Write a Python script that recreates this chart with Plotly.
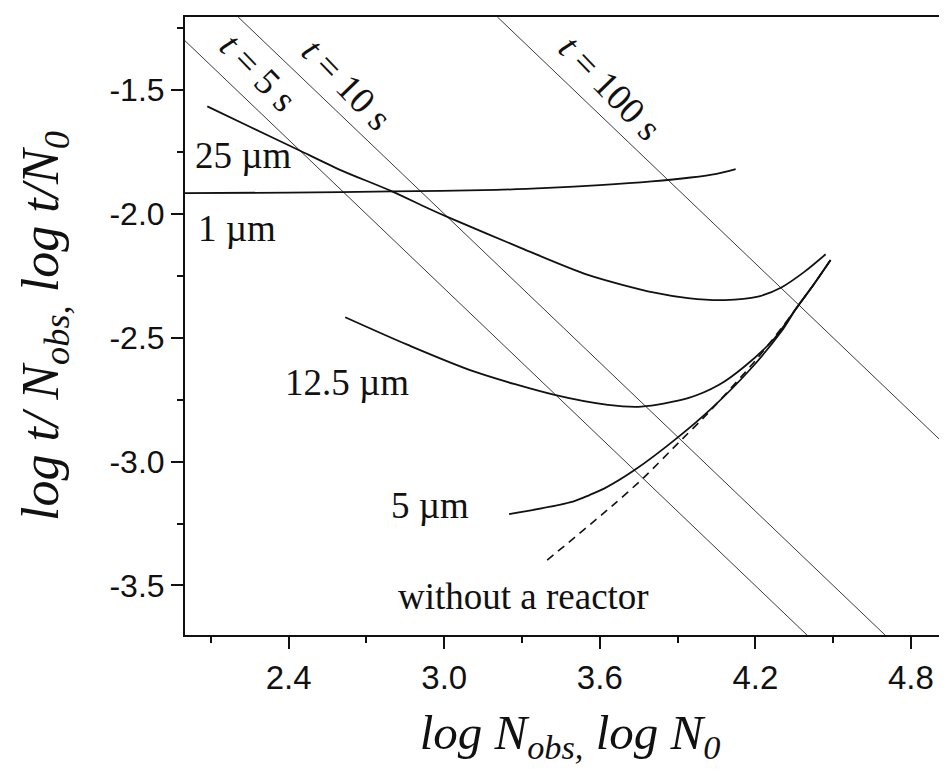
import plotly.graph_objects as go

# ---- data ----
# reference lines  log t/N = log t - log N  (t = 5 s, 10 s, 100 s)
t5_x = [2.0, 4.399]
t5_y = [-1.301, -3.70]
t10_x = [2.205, 4.70]
t10_y = [-1.205, -3.70]
t100_x = [3.205, 4.97]
t100_y = [-1.205, -2.97]

# 1 um
c1_x = [2.0, 2.4, 2.8, 3.2, 3.4, 3.6, 3.8, 3.95, 4.05, 4.124]
c1_y = [-1.916, -1.914, -1.909, -1.903, -1.895, -1.884, -1.869, -1.853, -1.838, -1.819]

# 25 um
c25_x = [2.086, 2.25, 2.436, 2.60, 2.794, 2.937, 3.014, 3.297, 3.554, 3.811, 3.940, 4.081, 4.210, 4.300, 4.390, 4.471]
c25_y = [-1.566, -1.648, -1.741, -1.823, -1.907, -1.977, -2.013, -2.138, -2.246, -2.318, -2.340, -2.348, -2.334, -2.297, -2.233, -2.163]

# 12.5 um
c12_x = [2.618, 2.860, 3.117, 3.426, 3.631, 3.760, 3.940, 4.060, 4.158, 4.274, 4.358, 4.425, 4.490]
c12_y = [-2.417, -2.529, -2.637, -2.731, -2.771, -2.778, -2.744, -2.690, -2.616, -2.502, -2.381, -2.285, -2.186]

# 5 um
c5_x = [3.250, 3.484, 3.560, 3.618, 3.734, 3.901, 4.030, 4.184, 4.300, 4.358, 4.425, 4.490]
c5_y = [-3.212, -3.165, -3.135, -3.108, -3.034, -2.902, -2.786, -2.623, -2.475, -2.381, -2.285, -2.186]

# without a reactor (dashed)
c0_x = [3.397, 3.644, 3.766, 3.914, 4.004, 4.197, 4.300, 4.358, 4.425, 4.490]
c0_y = [-3.398, -3.182, -3.068, -2.913, -2.819, -2.596, -2.462, -2.381, -2.285, -2.186]

labels = ["<i>t</i> = 5 s", "<i>t</i> = 10 s", "<i>t</i> = 100 s",
          "25 \u00b5m", "1 \u00b5m", "12.5 \u00b5m", "5 \u00b5m", "without a reactor"]
label_x = [2.282, 2.625, 3.643, 2.224, 2.200, 2.625, 2.945, 3.305]
label_y = [-1.431, -1.476, -1.492, -1.765, -2.058, -2.680, -3.177, -3.545]
label_angle = [46, 46, 46, 0, 0, 0, 0, 0]

x_ticks = [2.4, 3.0, 3.6, 4.2, 4.8]
y_ticks = [-1.5, -2.0, -2.5, -3.0, -3.5]

fig = go.Figure()

thin = dict(color="#3a3a3a", width=1)
for xs, ys in [(t5_x, t5_y), (t10_x, t10_y), (t100_x, t100_y)]:
    fig.add_trace(go.Scatter(x=xs, y=ys, mode="lines", line=thin,
                             hoverinfo="skip", showlegend=False))

thick = dict(color="#111111", width=1.8, shape="spline", smoothing=0.8)
for xs, ys in [(c1_x, c1_y), (c25_x, c25_y), (c12_x, c12_y), (c5_x, c5_y)]:
    fig.add_trace(go.Scatter(x=xs, y=ys, mode="lines", line=thick, showlegend=False))

fig.add_trace(go.Scatter(x=c0_x, y=c0_y, mode="lines", showlegend=False,
                         line=dict(color="#111111", width=1.6, dash="8px,6px",
                                   shape="spline", smoothing=0.8)))

serif = "Liberation Serif, Times New Roman, serif"
for txt, x, y, a in zip(labels, label_x, label_y, label_angle):
    fig.add_annotation(x=x, y=y, text=txt, showarrow=False, textangle=a,
                       xanchor="center", yanchor="middle",
                       font=dict(family=serif, size=37, color="#111111"))

fig.update_layout(
    width=947, height=773,
    margin=dict(l=177, r=0, t=9, b=146),
    paper_bgcolor="white", plot_bgcolor="white",
    showlegend=False,
)

xtickfont = dict(family="Liberation Sans Narrow, Arial Narrow, Liberation Sans, Arial, sans-serif",
                 size=33, color="#111111")
ytickfont = dict(family="Liberation Sans, Arial, sans-serif", size=32, color="#111111")
fig.update_xaxes(
    range=[2.0, 4.97], tickvals=x_ticks, ticktext=[f"{v:.1f}" for v in x_ticks],
    showgrid=False, zeroline=False,
    showline=True, linewidth=2, linecolor="#111111", mirror=True,
    ticks="outside", ticklen=12, tickwidth=2, tickcolor="#111111",
    minor=dict(dtick=0.3, tick0=0, ticks="outside", ticklen=6, tickwidth=2, tickcolor="#111111"),
    tickfont=xtickfont,
    title=dict(text="<i>log N<sub>obs,</sub> log N<sub>0</sub></i>",
               font=dict(family=serif, size=49, color="#111111"), standoff=20),
)
fig.update_yaxes(
    range=[-3.70, -1.205], tickvals=y_ticks, ticktext=[f"{v:.1f}" for v in y_ticks],
    showgrid=False, zeroline=False,
    showline=True, linewidth=2, linecolor="#111111", mirror=False,
    ticks="outside", ticklen=12, tickwidth=2, tickcolor="#111111",
    minor=dict(dtick=0.25, tick0=0, ticks="outside", ticklen=6, tickwidth=2, tickcolor="#111111"),
    tickfont=ytickfont,
    title=dict(text="<i>log t/ N<sub>obs,</sub> log t/N<sub>0</sub></i>",
               font=dict(family=serif, size=52, color="#111111"), standoff=34),
)

fig.write_html("out.html")
